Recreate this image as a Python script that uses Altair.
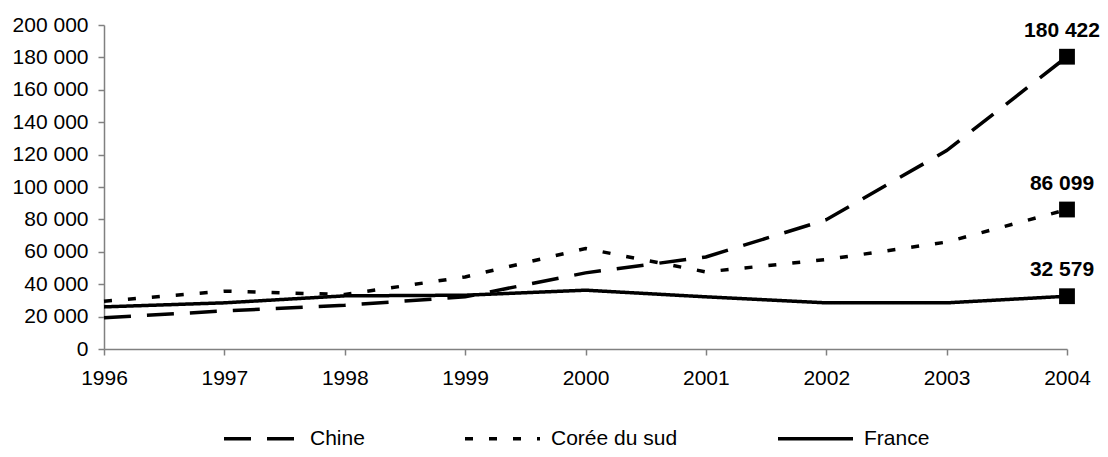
import altair as alt
import pandas as pd

years = [1996, 1997, 1998, 1999, 2000, 2001, 2002, 2003, 2004]
chine = [19300, 23500, 27000, 32200, 47000, 56800, 79800, 122500, 180422]
coree = [29500, 35700, 33600, 44500, 62000, 47600, 55200, 66000, 86099]
france = [26000, 28500, 32800, 33200, 36300, 32200, 28500, 28500, 32579]
series = ["Chine", "Corée du sud", "France"]
dashes = [[27, 16], [8, 16], [1, 0]]

rows = []
for name, vals in zip(series, [chine, coree, france]):
    for y, v in zip(years, vals):
        rows.append({"annee": y, "valeur": v, "pays": name})
df = pd.DataFrame(rows)

last = pd.DataFrame({
    "annee": [years[-1]] * 3,
    "valeur": [chine[-1], coree[-1], france[-1]],
    "pays": series,
})
last["texte"] = [f"{v:,}".replace(",", " ") for v in last["valeur"]]

FONT = "Liberation Sans"

x = alt.X("annee:Q", scale=alt.Scale(domain=[1996, 2004], nice=False),
          axis=alt.Axis(values=years, format="d", title=None, grid=False,
                        tickSize=6, labelPadding=12, labelFlush=False))
y = alt.Y("valeur:Q", scale=alt.Scale(domain=[0, 200000], nice=False),
          axis=alt.Axis(values=list(range(0, 200001, 20000)), title=None, grid=False,
                        tickSize=6, labelPadding=10,
                        labelExpr="replace(format(datum.value, ','), ',', ' ')"))

lines = alt.Chart(df).mark_line(color="black", strokeWidth=3.5, strokeCap="butt").encode(
    x=x, y=y,
    strokeDash=alt.StrokeDash("pays:N",
        scale=alt.Scale(domain=series, range=dashes),
        legend=alt.Legend(title=None, orient="none", direction="horizontal",
                          legendX=118, legendY=374,
                          symbolType="stroke", symbolSize=5625,
                          symbolStrokeWidth=3.5, symbolStrokeColor="black",
                          labelFont=FONT, labelFontSize=21, labelColor="black",
                          labelOffset=9, columnPadding=93)),
)

squares = alt.Chart(last).mark_square(color="black", size=250, opacity=1).encode(x=x, y=y)

labels = alt.Chart(last).mark_text(font=FONT, fontSize=21, fontWeight="bold",
                                   color="black", dy=-26, dx=-5, baseline="middle").encode(
    x=x, y=y, text="texte:N")

chart = (lines + squares + labels).properties(
    width=963, height=324,
    padding={"left": 96, "top": 17, "right": 33, "bottom": 100},
    autosize=alt.AutoSizeParams(type="none"),
).configure_view(stroke=None).configure_axis(
    domainColor="#808080", tickColor="#808080", domainWidth=1.5, tickWidth=1.5,
    labelFont=FONT, labelFontSize=21, labelColor="black",
)

chart.save("out.html", embed_options={"renderer": "svg", "actions": False})
